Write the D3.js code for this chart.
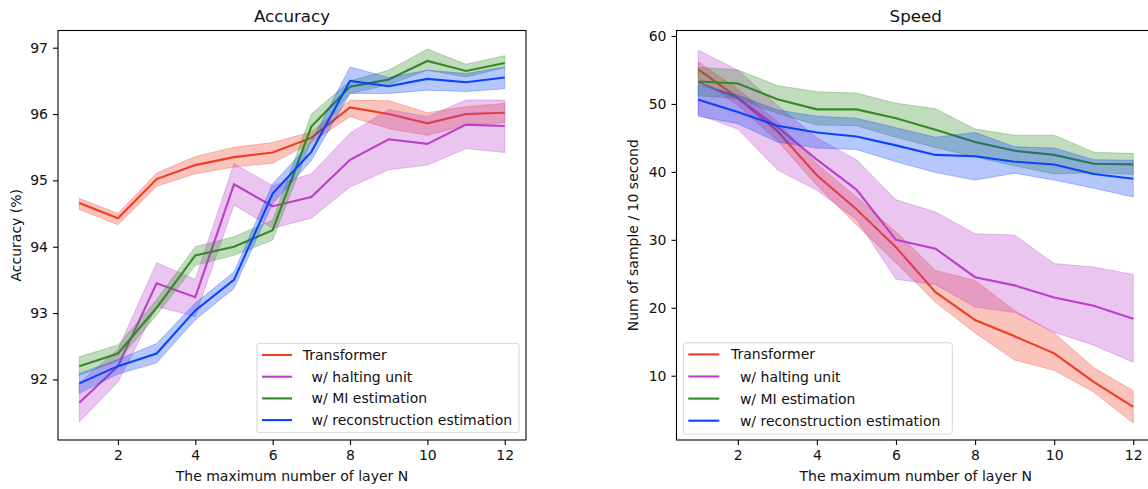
<!DOCTYPE html>
<html>
<head>
<meta charset="utf-8">
<script src="https://cdn.jsdelivr.net/npm/d3@7"></script>
<style>
  body { margin: 0; background: #fff; }
  svg { display: block; font-family: "DejaVu Sans", sans-serif; }
  .legend text { white-space: pre; }
</style>
</head>
<body>
<svg id="chart" width="1148" height="489"></svg>
<script>
const layers = [1, 2, 3, 4, 5, 6, 7, 8, 9, 10, 11, 12];
const seriesNames = ['Transformer', '  w/ halting unit', '  w/ MI estimation', '  w/ reconstruction estimation'];
const seriesColors = ['#f03c22', '#bb3fcb', '#338a24', '#0b44f8'];

const xTicks = [2, 4, 6, 8, 10, 12];
const accTicks = [92, 93, 94, 95, 96, 97];
const spdTicks = [10, 20, 30, 40, 50, 60];

// Accuracy (%)
const accTransformer   = [94.66, 94.43, 95.02, 95.23, 95.35, 95.42, 95.64, 96.10, 96.00, 95.86, 96.00, 96.02];
const accTransformerLo = [94.56, 94.33, 94.91, 95.10, 95.20, 95.26, 95.57, 95.96, 95.78, 95.68, 95.83, 95.87];
const accTransformerHi = [94.73, 94.50, 95.11, 95.36, 95.50, 95.57, 95.73, 96.21, 96.20, 96.02, 96.11, 96.16];
const accHalting   = [91.65, 92.20, 93.45, 93.24, 94.94, 94.61, 94.75, 95.31, 95.62, 95.55, 95.84, 95.82];
const accHaltingLo = [91.36, 91.96, 93.10, 92.95, 94.63, 94.28, 94.43, 94.90, 95.16, 95.23, 95.48, 95.42];
const accHaltingHi = [91.95, 92.45, 93.76, 93.51, 95.25, 94.92, 95.10, 95.71, 96.07, 95.96, 96.21, 96.21];
const accMI   = [92.20, 92.39, 93.08, 93.87, 94.00, 94.25, 95.81, 96.41, 96.52, 96.80, 96.65, 96.77];
const accMILo = [92.06, 92.28, 92.97, 93.72, 93.87, 94.10, 95.60, 96.31, 96.44, 96.66, 96.56, 96.70];
const accMIHi = [92.34, 92.52, 93.20, 94.00, 94.15, 94.40, 96.00, 96.50, 96.66, 96.98, 96.75, 96.88];
const accRecon   = [91.94, 92.20, 92.39, 93.04, 93.50, 94.80, 95.43, 96.50, 96.42, 96.53, 96.48, 96.55];
const accReconLo = [91.79, 92.08, 92.25, 92.90, 93.37, 94.65, 95.30, 96.31, 96.31, 96.36, 96.34, 96.38];
const accReconHi = [92.09, 92.30, 92.54, 93.15, 93.62, 94.95, 95.58, 96.71, 96.55, 96.66, 96.61, 96.71];

// Speed (samples / 10 s)
const spdTransformer   = [55.1, 50.9, 46.0, 39.5, 34.5, 28.9, 22.3, 18.2, 15.8, 13.3, 9.1, 5.4];
const spdTransformerLo = [53.8, 49.8, 44.6, 38.0, 32.2, 26.6, 20.8, 16.3, 12.3, 10.8, 7.6, 3.0];
const spdTransformerHi = [56.2, 52.2, 47.4, 41.2, 36.3, 31.2, 25.5, 24.0, 19.6, 16.3, 11.2, 7.8];
const spdHalting   = [53.2, 50.9, 46.6, 41.8, 37.4, 30.0, 28.7, 24.5, 23.3, 21.5, 20.3, 18.4];
const spdHaltingLo = [48.4, 46.3, 40.3, 37.3, 33.0, 24.2, 23.4, 20.1, 19.3, 16.4, 14.5, 12.0];
const spdHaltingHi = [57.9, 55.0, 49.8, 45.0, 41.8, 35.9, 34.1, 30.9, 30.7, 26.5, 26.0, 24.9];
const spdMI   = [53.3, 53.0, 50.7, 49.2, 49.2, 47.9, 46.2, 44.4, 43.1, 42.5, 41.2, 41.1];
const spdMILo = [51.2, 50.8, 48.6, 46.9, 46.8, 45.1, 43.6, 42.2, 40.9, 39.7, 39.9, 39.6];
const spdMIHi = [55.4, 55.0, 52.7, 51.8, 51.6, 50.1, 49.3, 46.3, 45.4, 45.4, 42.9, 42.7];
const spdRecon   = [50.6, 48.8, 46.8, 45.8, 45.2, 43.9, 42.5, 42.3, 41.5, 41.1, 39.7, 39.0];
const spdReconLo = [48.2, 47.1, 44.4, 43.5, 43.3, 41.5, 39.9, 38.8, 39.8, 38.8, 37.6, 36.3];
const spdReconHi = [52.8, 51.3, 49.1, 48.2, 47.9, 46.5, 45.1, 45.8, 43.7, 43.5, 41.8, 41.7];

const svg = d3.select('#chart');

function drawPanel(cfg) {
  const x = d3.scaleLinear().domain([0.45, 12.55]).range([cfg.left, cfg.right]);
  const y = d3.scaleLinear().domain(cfg.yDomain).range([cfg.bottom, cfg.top]);
  const g = svg.append('g');

  g.append('clipPath').attr('id', cfg.id + '-clip')
    .append('rect')
    .attr('x', cfg.left).attr('y', cfg.top)
    .attr('width', cfg.right - cfg.left).attr('height', cfg.bottom - cfg.top);

  const plot = g.append('g').attr('clip-path', 'url(#' + cfg.id + '-clip)');

  const area = d3.area()
    .x(d => x(d.n))
    .y0(d => y(d.lo))
    .y1(d => y(d.hi));
  const line = d3.line()
    .x(d => x(d.n))
    .y(d => y(d.v));

  cfg.series.forEach((s, i) => {
    const rows = layers.map((n, k) => ({n: n, v: s.mean[k], lo: s.lo[k], hi: s.hi[k]}));
    plot.append('path')
      .datum(rows)
      .attr('d', area)
      .attr('fill', seriesColors[i])
      .attr('fill-opacity', 0.3)
      .attr('stroke', seriesColors[i])
      .attr('stroke-opacity', 0.3)
      .attr('stroke-width', 1);
    plot.append('path')
      .datum(rows)
      .attr('d', line)
      .attr('fill', 'none')
      .attr('stroke', seriesColors[i])
      .attr('stroke-width', 2.1)
      .attr('stroke-linejoin', 'miter');
  });

  // axes
  const xAxis = g.append('g')
    .attr('transform', 'translate(0,' + cfg.bottom + ')')
    .call(d3.axisBottom(x).tickValues(xTicks).tickSize(5).tickPadding(5).tickFormat(d3.format('d')));
  const yAxis = g.append('g')
    .attr('transform', 'translate(' + cfg.left + ',0)')
    .call(d3.axisLeft(y).tickValues(cfg.yTicks).tickSize(5).tickPadding(5).tickFormat(d3.format('d')));
  [xAxis, yAxis].forEach(a => {
    a.select('.domain').remove();
    a.selectAll('.tick line').attr('stroke', '#000').attr('stroke-width', 1.1);
    a.selectAll('.tick text').attr('fill', '#111').style('font-size', '14px')
      .attr('font-family', '"DejaVu Sans", sans-serif');
  });

  // frame
  g.append('rect')
    .attr('x', cfg.left).attr('y', cfg.top)
    .attr('width', cfg.right - cfg.left).attr('height', cfg.bottom - cfg.top)
    .attr('fill', 'none').attr('stroke', '#000').attr('stroke-width', 1.1);

  // title + labels
  g.append('text')
    .attr('x', (cfg.left + cfg.right) / 2).attr('y', 22)
    .attr('text-anchor', 'middle').style('font-size', '16.7px').attr('fill', '#111')
    .text(cfg.title);
  g.append('text')
    .attr('x', (cfg.left + cfg.right) / 2).attr('y', cfg.bottom + 41)
    .attr('text-anchor', 'middle').style('font-size', '14px').attr('fill', '#111')
    .text('The maximum number of layer N');
  g.append('text')
    .attr('transform', 'translate(' + cfg.yLabelX + ',' + (cfg.top + cfg.bottom) / 2 + ') rotate(-90)')
    .attr('text-anchor', 'middle').style('font-size', '14px').attr('fill', '#111')
    .text(cfg.yLabel);

  // legend
  const L = cfg.legend;
  const lg = g.append('g').attr('class', 'legend');
  lg.append('rect')
    .attr('x', L.x).attr('y', L.y).attr('width', L.w).attr('height', L.h)
    .attr('rx', 3)
    .attr('fill', '#fff').attr('fill-opacity', 0.8)
    .attr('stroke', '#d6d6d6').attr('stroke-width', 1);
  seriesNames.forEach((name, i) => {
    const cy = L.y + L.first + i * L.step;
    lg.append('line')
      .attr('x1', L.x + L.pad).attr('x2', L.x + L.pad + L.handle)
      .attr('y1', cy).attr('y2', cy)
      .attr('stroke', seriesColors[i]).attr('stroke-width', 2.1);
    lg.append('text')
      .attr('x', L.x + L.pad + L.handle + L.gap).attr('y', cy + 5)
      .style('font-size', '14px').attr('fill', '#111')
      .text(name);
  });
}

drawPanel({
  id: 'acc',
  title: 'Accuracy',
  yLabel: 'Accuracy (%)',
  yLabelX: 21,
  left: 58, right: 526, top: 30.5, bottom: 440,
  yDomain: [91.087, 97.259],
  yTicks: accTicks,
  series: [
    {mean: accTransformer, lo: accTransformerLo, hi: accTransformerHi},
    {mean: accHalting, lo: accHaltingLo, hi: accHaltingHi},
    {mean: accMI, lo: accMILo, hi: accMIHi},
    {mean: accRecon, lo: accReconLo, hi: accReconHi}
  ],
  legend: {x: 257, y: 343.3, w: 262, h: 89.4, first: 11.7, step: 21.7, pad: 5, handle: 30, gap: 10.7}
});

drawPanel({
  id: 'spd',
  title: 'Speed',
  yLabel: 'Num of sample / 10 second',
  yLabelX: 638,
  left: 676.5, right: 1155, top: 30.5, bottom: 440,
  yDomain: [0.54, 60.81],
  yTicks: spdTicks,
  series: [
    {mean: spdTransformer, lo: spdTransformerLo, hi: spdTransformerHi},
    {mean: spdHalting, lo: spdHaltingLo, hi: spdHaltingHi},
    {mean: spdMI, lo: spdMILo, hi: spdMIHi},
    {mean: spdRecon, lo: spdReconLo, hi: spdReconHi}
  ],
  legend: {x: 683.3, y: 342.7, w: 269, h: 91.3, first: 11.7, step: 22.1, pad: 5, handle: 31, gap: 11.7}
});
</script>
</body>
</html>
